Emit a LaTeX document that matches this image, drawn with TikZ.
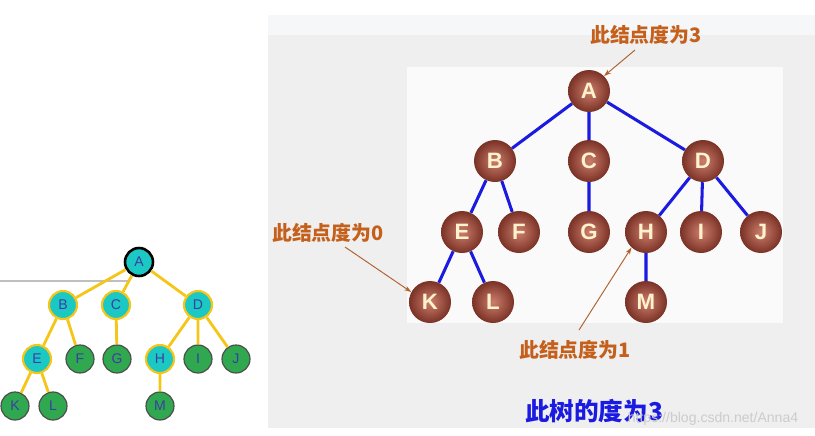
\documentclass[tikz,border=0pt]{standalone}
\usepackage{fontspec}
\setsansfont{Liberation Sans}
\newfontfamily\cjk{Noto Sans CJK SC}
\usetikzlibrary{arrows.meta}

\definecolor{panelbg}{HTML}{EFEFEF}
\definecolor{bandc}{HTML}{F5F7F8}
\definecolor{innerc}{HTML}{FAFAFA}
\definecolor{ballin}{HTML}{CC7E6C}
\definecolor{ballout}{HTML}{7A3226}
\definecolor{balltext}{HTML}{FFF2CC}
\definecolor{edgeblue}{HTML}{1A1AE0}
\definecolor{notec}{HTML}{C4601C}
\definecolor{arrowc}{HTML}{B0602A}
\definecolor{cyanc}{HTML}{1CC8C4}
\definecolor{greenc}{HTML}{2FA84F}
\definecolor{yellowc}{HTML}{F5C518}
\definecolor{lettc}{HTML}{3B3FA0}

\begin{document}
\begin{tikzpicture}[x=0.03cm, y=-0.03cm,
    ball/.style={circle, minimum size=1.26cm, inner sep=0pt, shading=radial,
        inner color=ballin, outer color=ballout, text=balltext,
        font=\sffamily\bfseries\fontsize{19}{19}\selectfont},
    treeedge/.style={edgeblue, line width=2.6pt},
    note/.style={text=notec, font=\cjk\bfseries\fontsize{17}{17}\selectfont},
    pointer/.style={arrowc, line width=0.8pt, -{Stealth[length=6pt,width=4pt]}},
    inner/.style={circle, minimum size=0.84cm, inner sep=0pt, fill=cyanc,
        draw=yellowc, line width=1.8pt, text=lettc, font=\sffamily\fontsize{12}{12}\selectfont},
    leaf/.style={inner, fill=greenc, draw=black!70, line width=1pt},
    smalledge/.style={yellowc, line width=2.4pt}]
    \useasboundingbox (0,0) rectangle (815,435);

    % right panel
    \fill[panelbg] (268,15) rectangle (815,428);
    \fill[bandc] (268,15) rectangle (815,35);
    \fill[innerc] (407,67) rectangle (783,323);

    % left tree
    \draw[black!25, line width=1.8pt] (0,281) -- (130,281);
    \node[inner, draw=black, line width=2.2pt] (a) at (139,262) {A};
    \node[inner] (b) at (63,305) {B};
    \node[inner] (c) at (116,305) {C};
    \node[inner] (d) at (198,305) {D};
    \node[inner] (e) at (37,359) {E};
    \node[leaf] (f) at (80,359) {F};
    \node[leaf] (g) at (117,359) {G};
    \node[inner] (h) at (160,359) {H};
    \node[leaf] (i) at (198,359) {I};
    \node[leaf] (j) at (236,359) {J};
    \node[leaf] (k) at (15,406) {K};
    \node[leaf] (l) at (53,406) {L};
    \node[leaf] (m) at (160,406) {M};
    \draw[smalledge] (a) -- (b) (a) -- (c) (a) -- (d) (b) -- (e) (b) -- (f)
        (c) -- (g) (d) -- (h) (d) -- (i) (d) -- (j) (e) -- (k) (e) -- (l) (h) -- (m);

    % right tree
    \node[ball] (A) at (589,91) {A};
    \node[ball] (B) at (495,161) {B};
    \node[ball] (C) at (589,161) {C};
    \node[ball] (D) at (703,161) {D};
    \node[ball] (E) at (462,232) {E};
    \node[ball] (F) at (519,232) {F};
    \node[ball] (G) at (589,232) {G};
    \node[ball] (H) at (646,232) {H};
    \node[ball] (I) at (701,232) {I};
    \node[ball] (J) at (761,232) {J};
    \node[ball] (K) at (430,302) {K};
    \node[ball] (L) at (493,302) {L};
    \node[ball] (M) at (646,302) {M};
    \draw[treeedge] (A) -- (B) (A) -- (C) (A) -- (D) (B) -- (E) (B) -- (F)
        (C) -- (G) (D) -- (H) (D) -- (I) (D) -- (J) (E) -- (K) (E) -- (L) (H) -- (M);

    % notes
    \node[note] (deg3) at (646,35) {此结点度为3};
    \node[note] (deg0) at (328,233) {此结点度为0};
    \node[note] (deg1) at (575,350) {此结点度为1};
    \coordinate (from3) at (635,50);
    \coordinate (from0) at (345,247);
    \coordinate (from1) at (579,330);
    \draw[pointer] (from3) -- (A.45);
    \draw[pointer] (from0) -- (K.152);
    \draw[pointer] (from1) -- (H.227);

    \node[text=edgeblue, font=\cjk\bfseries\fontsize{21}{21}\selectfont] (treedeg) at (594,411) {此树的度为3};
    \node[text=black!20, font=\sffamily\fontsize{12}{12}\selectfont] (mark) at (713,419) {https://blog.csdn.net/Anna4};
\end{tikzpicture}
\end{document}
